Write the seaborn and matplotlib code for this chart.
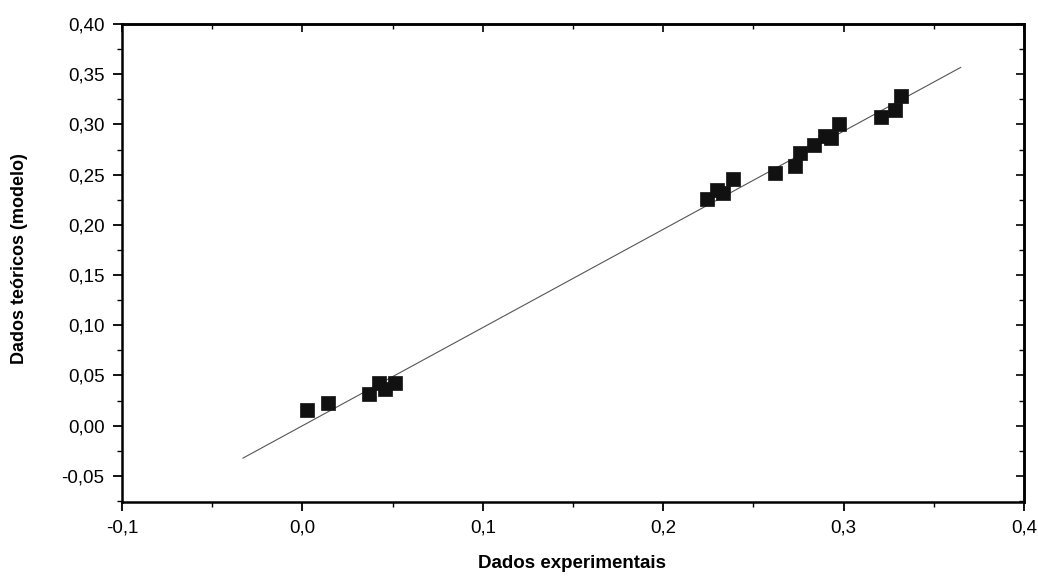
import matplotlib
matplotlib.use("Agg")
import matplotlib.pyplot as plt
from matplotlib.ticker import MultipleLocator, FuncFormatter, NullFormatter
import numpy as np
import pandas as pd
import seaborn as sns

# Experimental vs. model values
dados_experimentais = [0.0025, 0.0142, 0.0369, 0.0425, 0.0458, 0.0513,
                       0.2243, 0.2298, 0.2331, 0.2387, 0.2620, 0.2730,
                       0.2758, 0.2836, 0.2897, 0.2930, 0.2974, 0.3207,
                       0.3285, 0.3318]
dados_teoricos = [0.0155, 0.0225, 0.0315, 0.0424, 0.0365, 0.0424,
                  0.2257, 0.2347, 0.2317, 0.2456, 0.2516, 0.2586,
                  0.2715, 0.2795, 0.2884, 0.2865, 0.3004, 0.3074,
                  0.3143, 0.3283]

# Fitted straight line
ajuste_inclinacao = 0.978
ajuste_intercepto = -0.0001
ajuste_x = [-0.033, 0.365]

sns.set_theme(style="ticks")
plt.rcParams["font.family"] = ["Liberation Sans", "DejaVu Sans"]
plt.rcParams["text.color"] = "black"
plt.rcParams["axes.labelcolor"] = "black"

df = pd.DataFrame({"x": dados_experimentais, "y": dados_teoricos})
fit_x = np.array(ajuste_x)
fit = pd.DataFrame({"x": fit_x, "y": ajuste_inclinacao * fit_x + ajuste_intercepto})

fig = plt.figure(figsize=(10.38, 5.76), dpi=100)
ax = fig.add_axes([0.1175, 0.1285, 0.869, 0.8298])

sns.lineplot(data=fit, x="x", y="y", ax=ax, color="#555555", linewidth=0.8)
sns.scatterplot(data=df, x="x", y="y", ax=ax, marker="s", s=95,
                color="#111111", edgecolor="#111111", linewidth=0.5, zorder=3)

ax.set_xlim(-0.1, 0.4)
ax.set_ylim(-0.076, 0.40)

fmt_x = FuncFormatter(lambda v, p: f"{v:.1f}".replace(".", ",").replace("-0,0", "0,0"))
fmt_y = FuncFormatter(lambda v, p: f"{v:.2f}".replace(".", ",").replace("-0,00", "0,00"))

ax.xaxis.set_major_locator(MultipleLocator(0.1))
ax.xaxis.set_minor_locator(MultipleLocator(0.05))
ax.yaxis.set_major_locator(MultipleLocator(0.05))
ax.yaxis.set_minor_locator(MultipleLocator(0.025))
ax.xaxis.set_major_formatter(fmt_x)
ax.yaxis.set_major_formatter(fmt_y)

ax.tick_params(which="major", direction="out", length=6.5, width=1.3,
               labelsize=13.5, colors="black", pad=6)
ax.tick_params(which="minor", direction="out", length=3.5, width=1.0, colors="black")

# Mirrored inward ticks on the top and right frame
top = ax.secondary_xaxis("top")
top.xaxis.set_major_locator(MultipleLocator(0.1))
top.xaxis.set_minor_locator(MultipleLocator(0.05))
top.xaxis.set_major_formatter(NullFormatter())
top.tick_params(which="major", direction="in", length=6, width=1.2, colors="black")
top.tick_params(which="minor", direction="in", length=3.5, width=1.0, colors="black")
top.spines["top"].set_linewidth(1.8)
top.spines["top"].set_color("black")

right = ax.secondary_yaxis("right")
right.yaxis.set_major_locator(MultipleLocator(0.05))
right.yaxis.set_minor_locator(MultipleLocator(0.025))
right.yaxis.set_major_formatter(NullFormatter())
right.tick_params(which="major", direction="in", length=6, width=1.2, colors="black")
right.tick_params(which="minor", direction="in", length=3.5, width=1.0, colors="black")
right.spines["right"].set_linewidth(1.8)
right.spines["right"].set_color("black")

for s in ax.spines.values():
    s.set_linewidth(1.8)
    s.set_color("black")

ax.set_xlabel("Dados experimentais", fontsize=13.5, fontweight="bold", color="black")
ax.set_ylabel("Dados teóricos (modelo)", fontsize=13, fontweight="bold", color="black")
ax.xaxis.set_label_coords(0.499, -0.111)
ax.yaxis.set_label_coords(-0.104, 0.51)

fig.savefig("out.png", dpi=100, facecolor="white")
